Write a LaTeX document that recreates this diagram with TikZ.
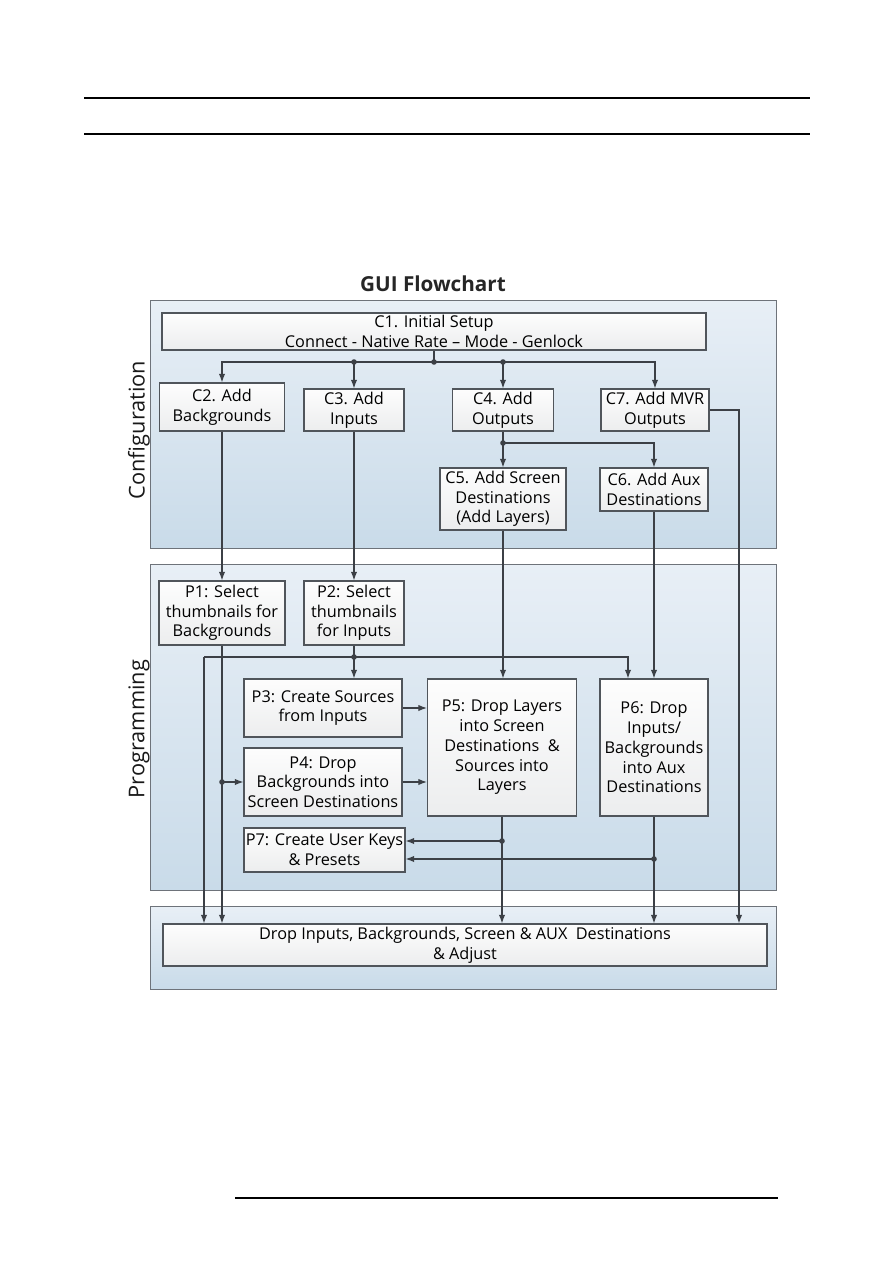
\documentclass[tikz,border=0pt]{standalone}
\usepackage{fontspec}
\setmainfont{Open Sans}
\usetikzlibrary{arrows.meta,calc}
\definecolor{linec}{HTML}{3C4046}
\definecolor{panelTop}{HTML}{E8EFF6}
\definecolor{panelBot}{HTML}{C9DBE9}
\definecolor{panelLine}{HTML}{6E737A}
\definecolor{boxTop}{HTML}{FDFDFD}
\definecolor{boxBot}{HTML}{ECEDEE}
\definecolor{boxLine}{HTML}{50555B}
\tikzset{
  wh/.style 2 args={minimum width=#1*0.75pt, minimum height=#2*0.75pt},
  panel/.style={draw=panelLine, line width=0.75pt, top color=panelTop, bottom color=panelBot},
  fbox/.style={draw=boxLine, line width=0.8pt, top color=boxTop, bottom color=boxBot,
     align=center, inner sep=0pt, font=\fontsize{12.2}{14.8}\selectfont, text=black},
  conn/.style={draw=linec, line width=0.85pt},
  arr/.style={conn, -{Latex[length=6.5pt,width=4.8pt]}},
  dot/.style={circle, fill=linec, inner sep=0pt, minimum size=4.2pt},
  sidelbl/.style={rotate=90, font=\fontsize{16.3}{18}\selectfont, text=black!90},
}
\begin{document}
\begin{tikzpicture}[x=0.75pt,y=-0.75pt]
\useasboundingbox (0,0) rectangle (893,1263);
\fill[white] (0,0) rectangle (893,1263);
% page rules
\draw[line width=1.1pt] (84,98) -- (810,98);
\draw[line width=1.1pt] (84,134) -- (810,134);
\draw[line width=1.1pt] (235,1198) -- (778,1198);
% title
\node[font=\fontsize{15.5}{18}\selectfont\bfseries, text=black!85] (title) at (433,284) {GUI Flowchart};
% panels
\path[panel] (150,300) rectangle (776,548);
\path[panel] (150,564) rectangle (776,890);
\path[panel] (150,906) rectangle (776,989);
\node[sidelbl] (lconf) at (139,430) {Configuration};
\node[sidelbl] (lprog) at (139,729) {Programming};
% boxes
\node[fbox, wh={544}{37}] (c1) at (434,331.5) {C1. Initial Setup\\Connect - Native Rate -- Mode - Genlock};
\node[fbox, wh={125}{48}] (c2) at (222,407) {C2. Add\\Backgrounds};
\node[fbox, wh={100}{42}] (c3) at (354,410) {C3. Add\\Inputs};
\node[fbox, wh={101}{42}] (c4) at (503,410) {C4. Add\\Outputs};
\node[fbox, wh={108}{42}] (c7) at (655,410) {C7. Add MVR\\Outputs};
\node[fbox, wh={126}{62}] (c5) at (503,499) {C5. Add Screen\\Destinations\\(Add Layers)};
\node[fbox, wh={108}{43}] (c6) at (654,489.5) {C6. Add Aux\\Destinations};
\node[fbox, wh={126}{64}] (p1) at (222,613) {P1: Select\\thumbnails for\\Backgrounds};
\node[fbox, wh={100}{64}] (p2) at (354,613) {P2: Select\\thumbnails\\for Inputs};
\node[fbox, wh={158}{58}] (p3) at (323,708) {P3: Create Sources\\from Inputs};
\node[fbox, wh={158}{68}] (p4) at (323,782) {P4: Drop\\Backgrounds into\\Screen Destinations};
\node[fbox, wh={149}{137}] (p5) at (502,747.5) {P5: Drop Layers\\into Screen\\Destinations \ \&\\Sources into\\Layers};
\node[fbox, wh={108}{137}] (p6) at (654,747.5) {P6: Drop\\Inputs/\\Backgrounds\\into Aux\\Destinations};
\node[fbox, wh={161}{44}] (p7) at (324.5,850) {P7: Create User Keys\\\& Presets};
\node[fbox, wh={604}{42}] (d) at (465,945) {Drop Inputs, Backgrounds, Screen \& AUX \ Destinations\\\& Adjust};
% junction coordinates
\coordinate (j0) at (434,362);
\coordinate (j1) at (503,443);
\coordinate (j2) at (354,657);
\coordinate (jl) at (204,657);
\coordinate (jr) at (628,657);
\coordinate (r7) at (739,410);
\coordinate (j4) at (222,782);
\coordinate (j5) at (502,841);
\coordinate (j6) at (654,859);
% configuration connectors
\draw[conn] (c1.south -| j0) -- (j0);
\draw[arr] (j0) -| (c2.north);
\draw[arr] (j0) -| (c7.north);
\draw[arr] (j0 -| c3.north) -- (c3.north);
\draw[arr] (j0 -| c4.north) -- (c4.north);
\node[dot] (d0) at (j0) {};
\node[dot] (d1) at (j0 -| c3.north) {};
\node[dot] (d2) at (j0 -| c4.north) {};
\draw[conn] (c4.south) -- (j1);
\draw[arr] (j1) -- (c5.north);
\draw[arr] (j1) -| (c6.north);
\node[dot] (d3) at (j1) {};
\draw[arr] (c7.east) -- (r7) -- (r7 |- d.north);
% config to programming
\draw[arr] (c2.south) -- (p1.north);
\draw[arr] (c3.south) -- (p2.north);
\draw[arr] (c5.south) -- (c5.south |- p5.north);
\draw[arr] (c6.south) -- (p6.north);
% programming connectors
\draw[conn] (p2.south) -- (j2);
\draw[arr] (j2) -- (j2 |- p3.north);
\draw[arr] (jl) -- (jr) -- (jr |- p6.north);
\draw[arr] (jl) -- (jl |- d.north);
\node[dot] (d4) at (j2) {};
\draw[arr] (p1.south) -- (p1.south |- d.north);
\draw[arr] (j4) -- (p4.west);
\node[dot] (d5) at (j4) {};
\draw[arr] (p3.east) -- (p3.east -| p5.west);
\draw[arr] (p4.east) -- (p4.east -| p5.west);
\draw[arr] (p5.south) -- (p5.south |- d.north);
\draw[arr] (j5) -- (j5 -| p7.east);
\node[dot] (d6) at (j5) {};
\draw[arr] (p6.south) -- (p6.south |- d.north);
\draw[arr] (j6) -- (j6 -| p7.east);
\node[dot] (d7) at (j6) {};
\end{tikzpicture}
\end{document}
